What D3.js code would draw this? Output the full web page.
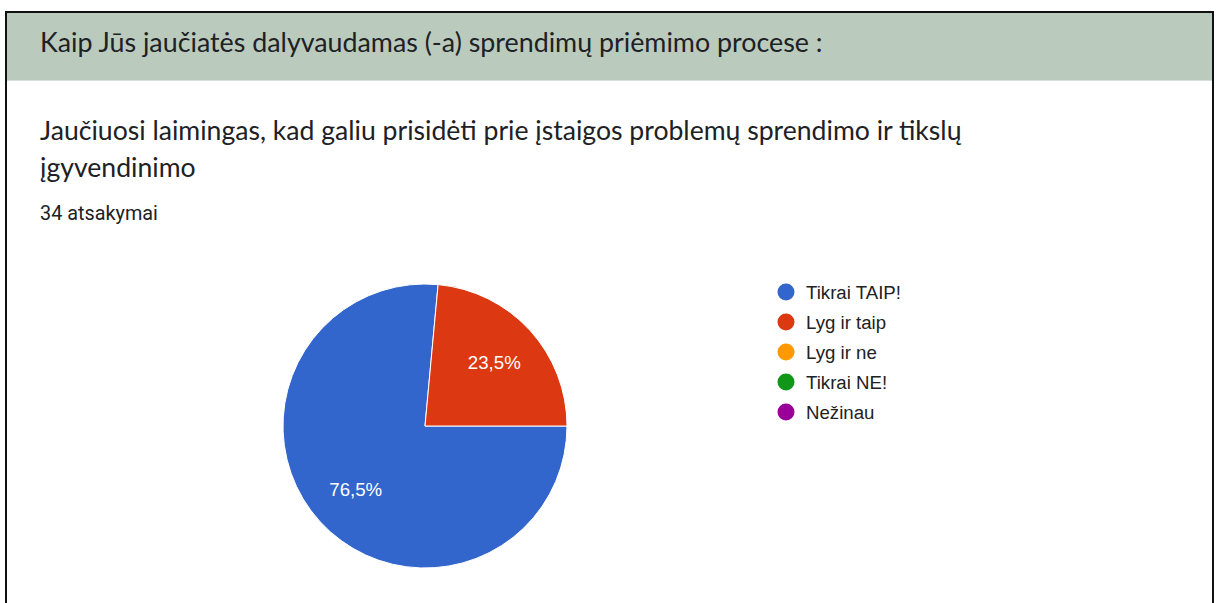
<!DOCTYPE html>
<html>
<head>
<meta charset="utf-8">
<script src="https://cdn.jsdelivr.net/npm/d3@7"></script>
<style>
  body { margin: 0; background: #fff; }
  svg { display: block; }
</style>
</head>
<body>
<svg id="chart" width="1219" height="603"></svg>
<script>
const categories = ['Tikrai TAIP!', 'Lyg ir taip', 'Lyg ir ne', 'Tikrai NE!', 'Nežinau'];
const counts = [26, 8, 0, 0, 0];
const colors = ['#3366cc', '#dc3912', '#ff9900', '#109618', '#990099'];
const sectionTitle = 'Kaip Jūs jaučiatės dalyvaudamas (-a) sprendimų priėmimo procese :';
const questionLines = ['Jaučiuosi laimingas, kad galiu prisidėti prie įstaigos problemų sprendimo ir tikslų', 'įgyvendinimo'];
const responses = '34 atsakymai';

const svg = d3.select('#chart');

// fit text to a measured width from the reference
function fitText(sel, width) {
    const len = sel.node().getComputedTextLength();
    const fs = parseFloat(sel.attr('font-size'));
    sel.attr('font-size', fs * width / len);
}

// card
svg.append('rect')
    .attr('x', 6).attr('y', 12)
    .attr('width', 1207).attr('height', 600)
    .attr('fill', '#fff')
    .attr('stroke', '#111').attr('stroke-width', 2);

svg.append('rect')
    .attr('x', 7).attr('y', 13)
    .attr('width', 1205).attr('height', 67)
    .attr('fill', '#bacbbe');
svg.append('rect')
    .attr('x', 7).attr('y', 80)
    .attr('width', 1205).attr('height', 1)
    .attr('fill', '#d6e0d8');

const headFont = 'Lato, "Open Sans", sans-serif';

const t1 = svg.append('text')
    .attr('x', 40).attr('y', 52)
    .attr('font-family', headFont).attr('font-size', 18)
    .attr('fill', '#202124')
    .text(sectionTitle);
fitText(t1, 783);

const q1 = svg.append('text')
    .attr('x', 40).attr('y', 140)
    .attr('font-family', headFont).attr('font-size', 20)
    .attr('fill', '#202124')
    .text(questionLines[0]);
fitText(q1, 922);
svg.append('text')
    .attr('x', 40).attr('y', 177)
    .attr('font-family', headFont).attr('font-size', q1.attr('font-size'))
    .attr('fill', '#202124')
    .text(questionLines[1]);

const r1 = svg.append('text')
    .attr('x', 40).attr('y', 220)
    .attr('font-family', 'Roboto, sans-serif').attr('font-size', 14)
    .attr('fill', '#202124')
    .text(responses);
fitText(r1, 118);

// pie
const total = d3.sum(counts);
const data = categories.map((c, i) => ({name: c, value: counts[i], color: colors[i]}));
const pie = d3.pie()
    .value(d => d.value)
    .sort(null)
    .startAngle(Math.PI / 2)
    .endAngle(Math.PI / 2 + 2 * Math.PI);
const radius = 142;
const arc = d3.arc().innerRadius(0).outerRadius(radius);
const labelArc = d3.arc().innerRadius(radius * 0.66).outerRadius(radius * 0.66);

const g = svg.append('g').attr('transform', 'translate(425,426)');
const arcs = pie(data).filter(d => d.value > 0);

g.selectAll('path')
    .data(arcs)
    .enter()
    .append('path')
    .attr('d', arc)
    .attr('fill', d => d.data.color)
    .attr('stroke', '#fff')
    .attr('stroke-width', 1);

const fmt = v => (Math.round(v / total * 1000) / 10).toFixed(1).replace('.', ',') + '%';
const labels = g.selectAll('text')
    .data(arcs)
    .enter()
    .append('text')
    .attr('transform', d => `translate(${labelArc.centroid(d)})`)
    .attr('text-anchor', 'middle')
    .attr('dy', '0.35em')
    .attr('font-family', 'Arial, "Liberation Sans", sans-serif')
    .attr('font-size', 16)
    .attr('fill', '#fff')
    .text(d => fmt(d.value));
fitText(labels.filter((d, i) => i === 0), 53);
labels.attr('font-size', labels.filter((d, i) => i === 0).attr('font-size'));

// legend
const legend = svg.append('g').attr('transform', 'translate(786,292)');
const items = legend.selectAll('g')
    .data(data)
    .enter()
    .append('g')
    .attr('transform', (d, i) => `translate(0,${i * 30})`);
items.append('circle')
    .attr('r', 8.5)
    .attr('fill', d => d.color);
const ltext = items.append('text')
    .attr('x', 20)
    .attr('dy', '0.36em')
    .attr('font-family', 'Arial, "Liberation Sans", sans-serif')
    .attr('font-size', 15)
    .attr('fill', '#222')
    .text(d => d.name);
fitText(ltext.filter((d, i) => i === 0), 95);
ltext.attr('font-size', ltext.filter((d, i) => i === 0).attr('font-size'));
</script>
</body>
</html>
